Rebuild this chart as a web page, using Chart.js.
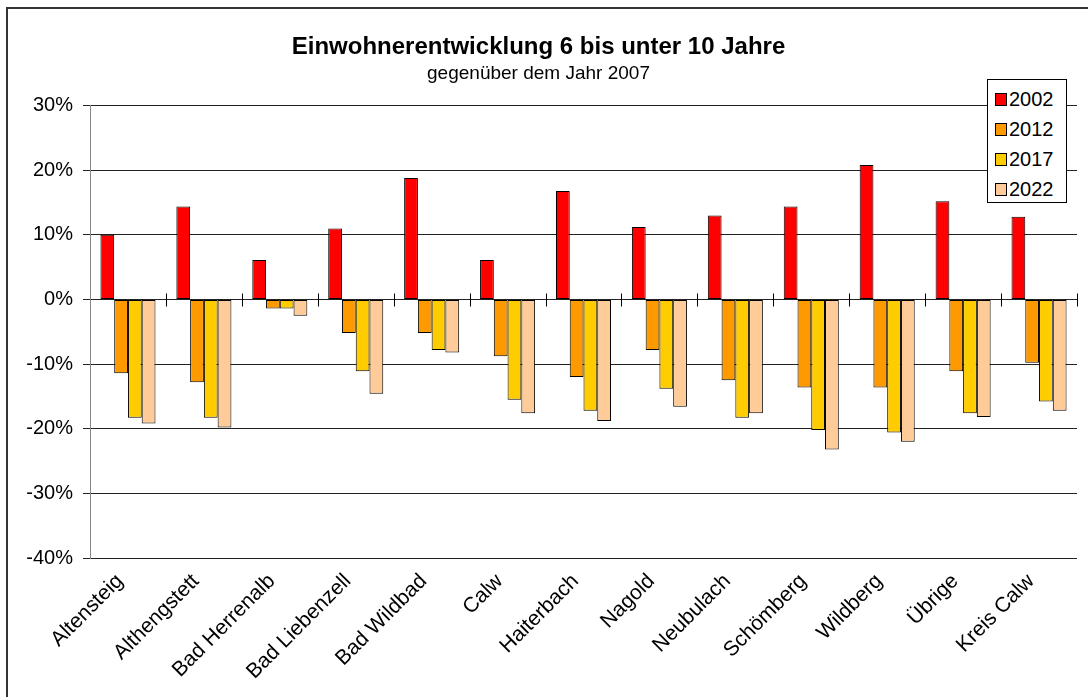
<!DOCTYPE html>
<html>
<head>
<meta charset="utf-8">
<script src="https://cdn.jsdelivr.net/npm/chart.js@4/dist/chart.umd.min.js"></script>
<style>
  body { margin: 0; background: #fff; font-family: "Liberation Sans", Arial, sans-serif; }
  #wrap { position: relative; width: 1088px; height: 697px; overflow: hidden; }
  #frame { position: absolute; left: 6px; top: 7px; width: 1100px; height: 720px; border: 2px solid #333; box-sizing: border-box; }
  #myChart { position: absolute; left: 0; top: 0; }
  #legend { position: absolute; left: 987px; top: 79px; width: 80px; height: 124px; box-sizing: border-box;
            border: 1px solid #000; background: #fff; padding-top: 4px; }
  .item { height: 30px; display: flex; align-items: center; font-size: 20px; color: #000; }
  .box { width: 10px; height: 11px; border: 1px solid #000; margin-left: 7px; margin-right: 2px; }
</style>
</head>
<body>
<div id="wrap">
  <div id="frame"></div>
  <canvas id="myChart" width="1088" height="697"></canvas>
  <div id="legend"></div>
</div>
<script>
// Daten: Veränderung gegenüber 2007 (in %)
const places = ["Altensteig", "Althengstett", "Bad Herrenalb", "Bad Liebenzell", "Bad Wildbad", "Calw",
  "Haiterbach", "Nagold", "Neubulach", "Schömberg", "Wildberg", "Übrige", "Kreis Calw"];
const years = ["2002", "2012", "2017", "2022"];
const values2002 = [10.0, 14.4, 6.1, 11.0, 18.8, 6.1, 16.8, 11.2, 13.0, 14.4, 20.8, 15.2, 12.8];
const values2012 = [-11.4, -12.8, -1.4, -5.2, -5.2, -8.8, -12.0, -7.8, -12.5, -13.6, -13.6, -11.1, -9.8];
const values2017 = [-18.3, -18.3, -1.4, -11.1, -7.8, -15.5, -17.2, -13.8, -18.3, -20.2, -20.6, -17.6, -15.8];
const values2022 = [-19.2, -19.8, -2.5, -14.6, -8.2, -17.6, -18.8, -16.6, -17.6, -23.2, -22.0, -18.2, -17.2];
const yTicks = [30, 20, 10, 0, -10, -20, -30, -40];

const colors = ["#FF0000", "#FF9900", "#FFCC00", "#FFCC99"];
const series = [values2002, values2012, values2017, values2022];

// HTML Legende
const legendEl = document.getElementById("legend");
for (let i = 0; i < years.length; i++) {
  const row = document.createElement("div");
  row.className = "item";
  row.innerHTML = '<span class="box" style="background:' + colors[i] + '"></span>' + years[i];
  legendEl.appendChild(row);
}

// kleine Striche auf der Nulllinie zwischen den Kategorien
const zeroTicks = {
  id: "zeroTicks",
  afterDatasetsDraw(chart) {
    const x = chart.scales.x, y = chart.scales.y;
    const y0 = y.getPixelForValue(0);
    const step = x.width / places.length;
    const c = chart.ctx;
    c.save();
    c.strokeStyle = "#000";
    c.lineWidth = 1;
    c.beginPath();
    for (let i = 1; i <= places.length; i++) {
      const px = Math.round(x.left + i * step) + 0.5;
      c.moveTo(px, y0 - 6);
      c.lineTo(px, y0 + 7);
    }
    c.stroke();
    c.restore();
  }
};

const ctx = document.getElementById("myChart").getContext("2d");
Chart.defaults.font.family = '"Liberation Sans", Arial, sans-serif';
Chart.defaults.color = "#000";

new Chart(ctx, {
  type: "bar",
  data: {
    labels: places,
    datasets: years.map((yr, i) => ({
      label: yr,
      data: series[i],
      backgroundColor: colors[i],
      borderColor: "#000",
      borderWidth: 1,
      borderSkipped: false,
      categoryPercentage: 0.725,
      barPercentage: 1.0,
    })),
  },
  options: {
    responsive: false,
    animation: false,
    layout: { padding: { left: 0, right: 11, top: 0, bottom: 0 } },
    plugins: {
      legend: { display: false },
      tooltip: { enabled: false },
      title: {
        display: true,
        text: "Einwohnerentwicklung 6 bis unter 10 Jahre",
        font: { size: 24, weight: "bold" },
        color: "#000",
        padding: { top: 33, bottom: 0 },
      },
      subtitle: {
        display: true,
        text: "gegenüber dem Jahr 2007",
        font: { size: 19 },
        color: "#000",
        padding: { top: 1, bottom: 20 },
      },
    },
    scales: {
      y: {
        min: -40,
        max: 30,
        afterFit(scale) { scale.width = 90; },
        afterBuildTicks(scale) { scale.ticks = yTicks.map(v => ({ value: v })); },
        ticks: {
          font: { size: 20 },
          padding: 10,
          callback: (v) => v + "%",
        },
        grid: { color: "#222", lineWidth: 1, tickLength: 7, drawTicks: true },
        border: { display: true, color: "#888", width: 1 },
      },
      x: {
        afterFit(scale) { scale.height = 697 - 558; },
        ticks: {
          font: { size: 21 },
          minRotation: 45,
          maxRotation: 45,
          padding: 3,
          labelOffset: -8,
          autoSkip: false,
        },
        grid: { display: false },
        border: { display: false },
      },
    },
  },
  plugins: [zeroTicks],
});
</script>
</body>
</html>
